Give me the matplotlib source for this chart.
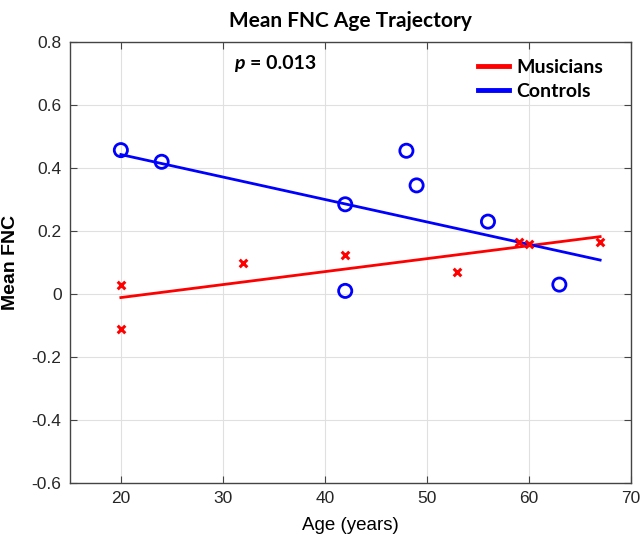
import numpy as np
import matplotlib.pyplot as plt

# data
ctrl_age = [20, 24, 42, 42, 48, 49, 56, 63]
ctrl_fnc = [0.457, 0.42, 0.285, 0.01, 0.455, 0.345, 0.23, 0.03]

mus_age = [20, 20, 32, 42, 53, 59, 60, 67]
mus_fnc = [0.03, -0.11, 0.10, 0.125, 0.07, 0.165, 0.16, 0.165]

fit_range = [20, 67]

plt.rcParams['font.family'] = ['Liberation Sans', 'DejaVu Sans']
calibri_like = ['Lato', 'Open Sans', 'DejaVu Sans']

fig = plt.figure(figsize=(6.41, 5.4), dpi=100)
ax = fig.add_axes([0.109, 0.1056, 0.875, 0.8164])

# linear fits
xs = np.array(fit_range)
mus_fit = np.polyfit(mus_age, mus_fnc, 1)
ctrl_fit = np.polyfit(ctrl_age, ctrl_fnc, 1)

ax.plot(xs, np.polyval(mus_fit, xs), color='#ff0000', lw=2, label='Musicians', zorder=3)
ax.plot(xs, np.polyval(ctrl_fit, xs), color='#0000ff', lw=2, label='Controls', zorder=3)

ax.scatter(ctrl_age, ctrl_fnc, s=90, facecolors='none', edgecolors='#0000ff', linewidths=2, zorder=4)
ax.scatter(mus_age, mus_fnc, s=30, marker='x', color='#ff0000', linewidths=2.2, zorder=4)

ax.set_xlim(15, 70)
ax.set_ylim(-0.6, 0.8)
ax.set_xticks([20, 30, 40, 50, 60, 70])
ax.set_yticks(np.arange(-0.6, 0.81, 0.2))
ax.set_yticklabels(['-0.6', '-0.4', '-0.2', '0', '0.2', '0.4', '0.6', '0.8'])

ax.grid(True, color='#e0e0e0', lw=0.8)
ax.set_axisbelow(True)
ax.tick_params(direction='in', top=True, right=True, labelsize=12.5, length=5,
               color='#444444', labelcolor='#262626', pad=6)
for s in ax.spines.values():
    s.set_color('#444444')
    s.set_linewidth(1)

ax.set_title('Mean FNC Age Trajectory', fontsize=15, fontweight='bold',
             family=calibri_like, pad=11)
ax.set_xlabel('Age (years)', fontsize=13.5, labelpad=8)
ax.set_ylabel('Mean FNC', fontsize=14, fontweight='bold')
ax.yaxis.set_label_coords(-0.09, 0.5)

ax.text(31.1, 0.731, 'p', fontsize=14, fontweight='bold', fontstyle='italic',
        family=calibri_like, va='center')
ax.text(32.7, 0.731, '= 0.013', fontsize=14, fontweight='bold',
        family=calibri_like, va='center')

leg = ax.legend(loc='upper right', frameon=False, handlelength=1.6, handletextpad=0.4,
                borderaxespad=0.0, labelspacing=0.35, bbox_to_anchor=(0.965, 0.98),
                prop={'weight': 'bold', 'size': 14, 'family': calibri_like})
for line in leg.get_lines():
    line.set_linewidth(3.5)

fig.savefig('out.png', dpi=100)
